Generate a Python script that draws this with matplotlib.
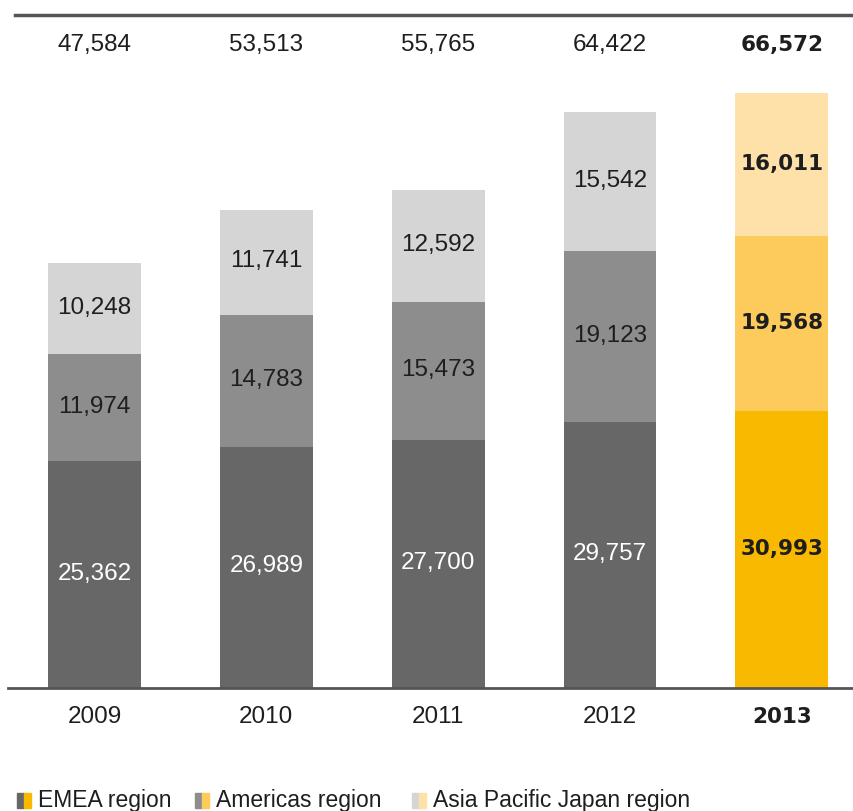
import matplotlib.pyplot as plt
from matplotlib.patches import Rectangle

years = ['2009', '2010', '2011', '2012', '2013']
emea = [25362, 26989, 27700, 29757, 30993]
americas = [11974, 14783, 15473, 19123, 19568]
apj = [10248, 11741, 12592, 15542, 16011]
totals = [47584, 53513, 55765, 64422, 66572]

grey_cols = ['#676767', '#8d8d8d', '#d5d5d5']
gold_cols = ['#f9b900', '#fdca5c', '#fee1a8']
font = ['Liberation Sans Narrow', 'Liberation Sans', 'DejaVu Sans']

W, H = 854, 811
fig = plt.figure(figsize=(W / 100, H / 100), dpi=100)
ax = fig.add_axes([0, (H - 688) / H, 1, 673 / H])
ax.set_xlim(-0.55, 4.42)
ax.set_ylim(0, 75297)
ax.axis('off')


def style(last):
    if last:
        return dict(family='DejaVu Sans', fontweight='bold', fontsize=15.5)
    return dict(family=font, fontweight='normal', fontsize=17.5)


x = list(range(len(years)))
bottom = [0] * len(years)
for k, series in enumerate([emea, americas, apj]):
    cols = [grey_cols[k]] * 4 + [gold_cols[k]]
    ax.bar(x, series, width=0.54, bottom=bottom, color=cols, linewidth=0)
    for i, v in enumerate(series):
        last = i == len(years) - 1
        tc = 'white' if (k == 0 and not last) else '#1e1e1e'
        ax.text(i, bottom[i] + v / 2 + 100, f'{v:,}', ha='center', va='center',
                color=tc, **style(last))
    bottom = [b + v for b, v in zip(bottom, series)]

for i, t in enumerate(totals):
    ax.text(i, 71900, f'{t:,}', ha='center', va='center', color='#1e1e1e',
            **style(i == len(years) - 1))

# rules
fig.add_artist(plt.Line2D([15 / W, 1], [(H - 15) / H] * 2, color='#555555', lw=2.5))
fig.add_artist(plt.Line2D([8 / W, 1], [(H - 688) / H] * 2, color='#555555', lw=2))

for i, y in enumerate(years):
    ax.text(i, -3200, y, ha='center', va='center', color='#1e1e1e',
            clip_on=False, **style(i == len(years) - 1))

# legend
legend = [('EMEA region', 0, 17), ('Americas region', 1, 195), ('Asia Pacific Japan region', 2, 412)]
for label, k, px in legend:
    fig.add_artist(Rectangle((px / W, (H - 808) / H), 7 / W, 15 / H,
                             color=grey_cols[k], transform=fig.transFigure))
    fig.add_artist(Rectangle(((px + 7) / W, (H - 808) / H), 7 / W, 15 / H,
                             color=gold_cols[k], transform=fig.transFigure))
    fig.text((px + 21) / W, (H - 800) / H, label, ha='left', va='center',
             fontsize=16.5, color='#1e1e1e', family=font)

fig.savefig('out.png', dpi=100)
